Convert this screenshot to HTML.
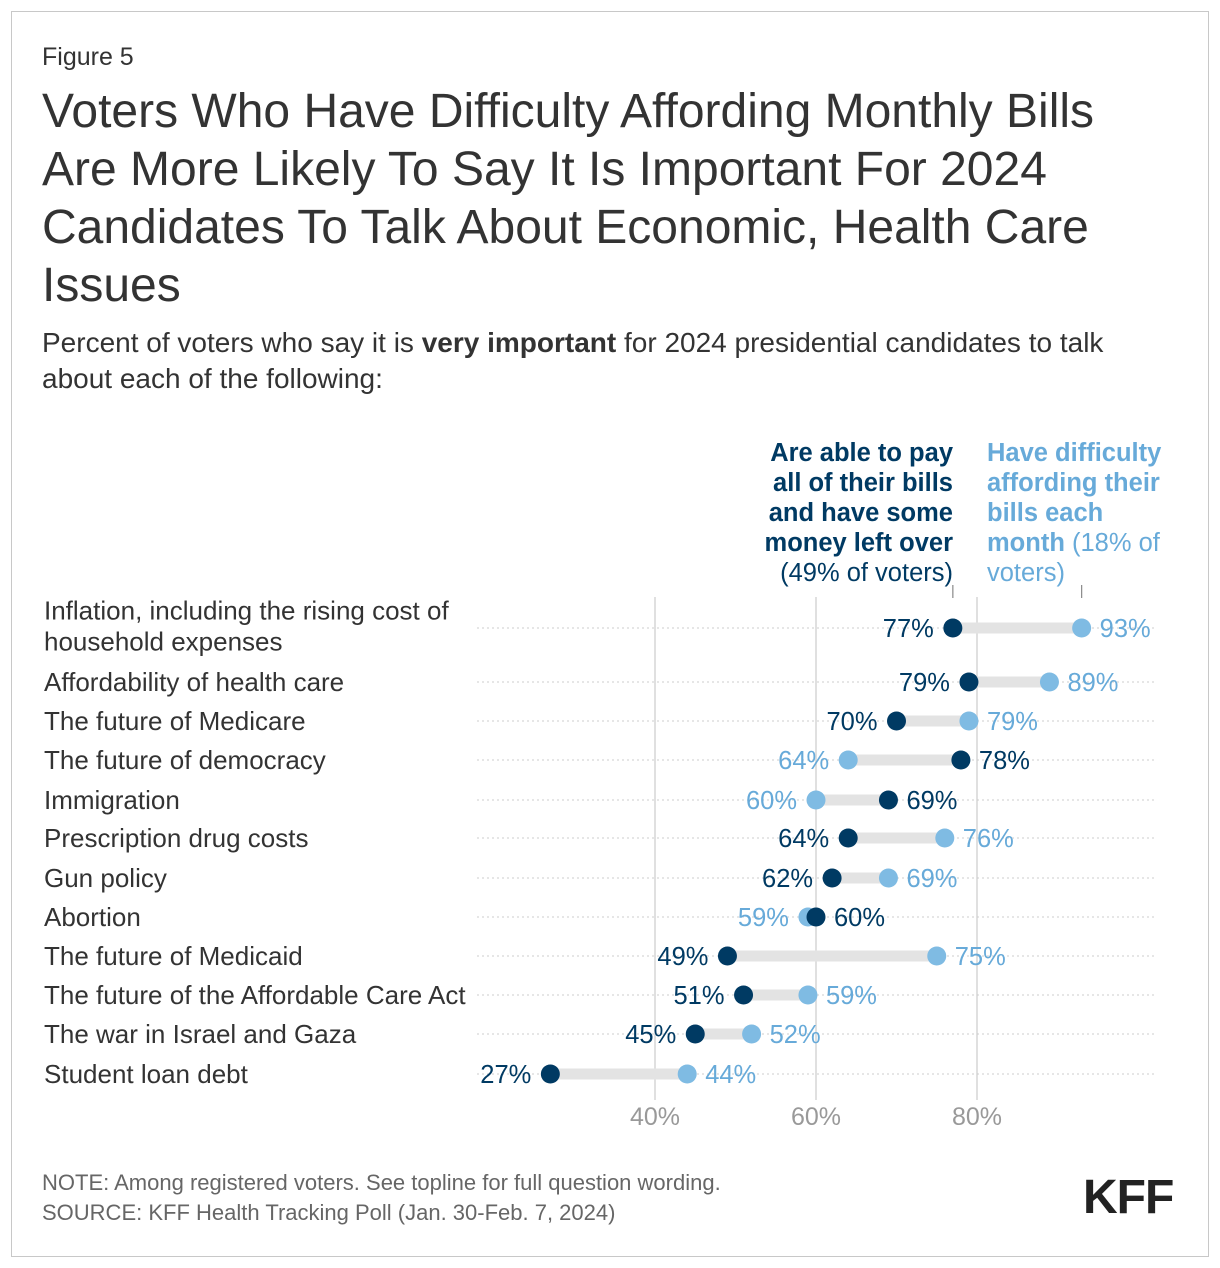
<!DOCTYPE html>
<html><head><meta charset="utf-8">
<style>
body{margin:0;background:#fff;font-family:"Liberation Sans",Arial,sans-serif;}
#frame{position:absolute;left:11px;top:11px;width:1196px;height:1244px;border:1px solid #c8c8c8;}
.t{position:absolute;color:#333;}
</style></head><body>
<div id="frame"></div>
<div class="t" style="left:42px;top:43px;font-size:25px;">Figure 5</div>
<div class="t" style="left:42px;top:83px;width:1110px;font-size:48px;line-height:58px;">Voters Who Have Difficulty Affording Monthly Bills Are More Likely To Say It Is Important For 2024 Candidates To Talk About Economic, Health Care Issues</div>
<div class="t" style="left:42px;top:325px;width:1110px;font-size:28px;line-height:36px;">Percent of voters who say it is <b>very important</b> for 2024 presidential candidates to talk about each of the following:</div>
<svg id="chart" width="1220" height="1268" style="position:absolute;left:0;top:0"></svg>
<div class="t" style="left:42px;top:1168px;font-size:22px;color:#666;line-height:30px;">NOTE: Among registered voters. See topline for full question wording.<br>SOURCE: KFF Health Tracking Poll (Jan. 30-Feb. 7, 2024)</div>
<div class="t" style="left:1083px;top:1170px;font-size:48px;font-weight:bold;color:#222;letter-spacing:-1px;">KFF</div>
<script>
const categories=["Inflation, including the rising cost of|household expenses","Affordability of health care","The future of Medicare","The future of democracy","Immigration","Prescription drug costs","Gun policy","Abortion","The future of Medicaid","The future of the Affordable Care Act","The war in Israel and Gaza","Student loan debt"];
const ablePay=[77,79,70,78,69,64,62,60,49,51,45,27];
const difficulty=[93,89,79,64,60,76,69,59,75,59,52,44];
const ticks=[40,60,80];
const rowY=[628,682,721,760,800,838,878,917,956,995,1034,1074];
const DARK="#003a63",LIGHT="#7fbbe3",LIGHTT="#67aad9";
const svg=document.getElementById('chart');
const NS="http://www.w3.org/2000/svg";
function x(v){return 333+v*8.05;}
function mk(t,a,p){const e=document.createElementNS(NS,t);for(const k in a)e.setAttribute(k,a[k]);(p||svg).appendChild(e);return e;}
ticks.forEach(t=>{
 const l=mk('line',{x1:x(t),x2:x(t),y1:597,y2:1100,stroke:'#e0e0e0','stroke-width':2});
 
 
 const tx=mk('text',{x:x(t),y:1125,'text-anchor':'middle','font-size':25,fill:'#999'});
 tx.textContent=t+'%';
 
 
});
function legend(lines,xx,anchor,names){lines.forEach((ln,i)=>{const t=mk('text',{x:xx,y:461+i*30,'text-anchor':anchor,'font-size':25.5});ln.forEach(s=>{const sp=mk('tspan',{fill:s[1],'font-weight':s[2]?'bold':'normal'},t);sp.textContent=s[0];});});}
legend([[["Are able to pay",DARK,1]],[["all of their bills",DARK,1]],[["and have some",DARK,1]],[["money left over",DARK,1]],[["(49% of voters)",DARK,0]]],953,'end','legend-able-to-pay');
legend([[["Have difficulty",LIGHTT,1]],[["affording their",LIGHTT,1]],[["bills each",LIGHTT,1]],[["month",LIGHTT,1],[" (18% of",LIGHTT,0]],[["voters)",LIGHTT,0]]],987,'start','legend-difficulty');
[[x(ablePay[0]),'legend-tick-able'],[x(difficulty[0]),'legend-tick-difficulty']].forEach(a=>{const l=mk('line',{x1:a[0],x2:a[0],y1:585,y2:598,stroke:'#888','stroke-width':1.2});});
categories.forEach((c,i)=>{
 const y=rowY[i];
 const parts=c.split('|');
 parts.forEach((p,j)=>{const t=mk('text',{x:44,y:y+9+(parts.length>1?(j-0.5)*31-2:0),'font-size':26,fill:'#333'});t.textContent=p;});
 const g=mk('line',{x1:477,x2:1155,y1:y,y2:y,stroke:'#ccc','stroke-width':1,'stroke-dasharray':'2,3'});
 
 
 const a=ablePay[i],d=difficulty[i];
 const b=mk('line',{x1:x(a),x2:x(d),y1:y,y2:y,stroke:'#e3e3e3','stroke-width':11});
 
 
 const hiDark=a>=d;
 [[d,LIGHT,LIGHTT,!hiDark,'dot-difficulty'],[a,DARK,DARK,hiDark,'dot-able-to-pay']].forEach(s=>{
  const ci=mk('circle',{cx:x(s[0]),cy:y,r:9.5,fill:s[1]});
  
  
  const right=s[3];
  const t=mk('text',{x:x(s[0])+(right?18:-19),y:y+9,'text-anchor':right?'start':'end','font-size':25.5,fill:s[2]});
  t.textContent=s[0]+'%';
  
  
 });
});
</script>
</body></html>
